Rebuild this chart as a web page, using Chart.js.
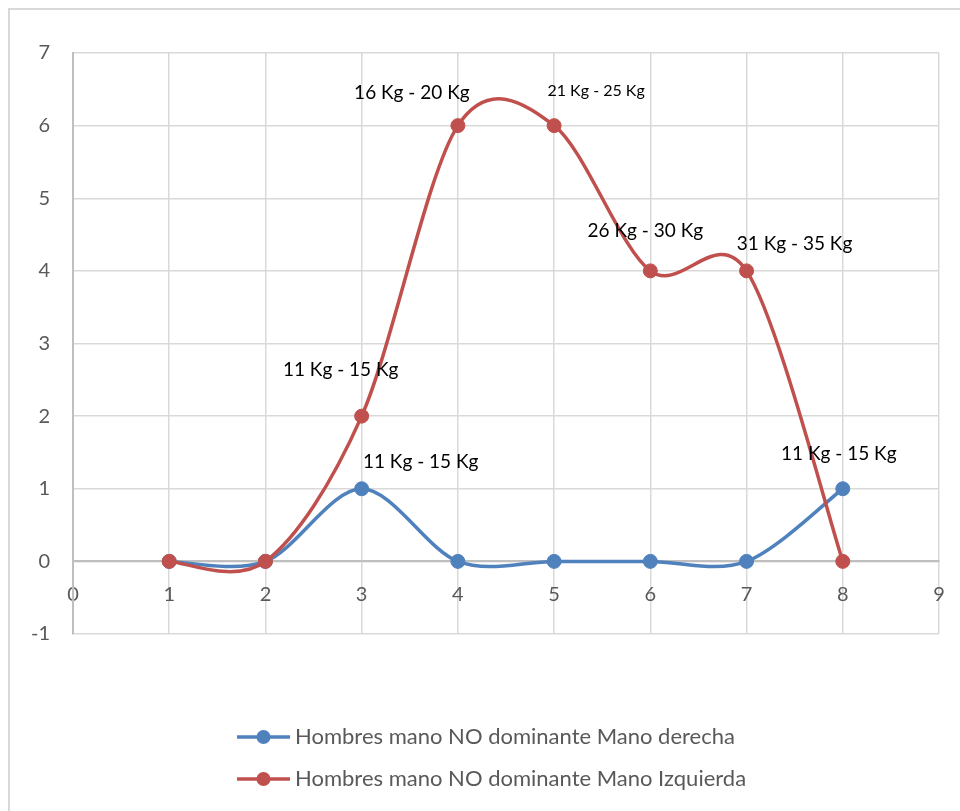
<!DOCTYPE html>
<html>
<head>
<meta charset="utf-8">
<script src="https://cdn.jsdelivr.net/npm/chart.js@4/dist/chart.umd.min.js"></script>
<style>
  html, body { margin: 0; padding: 0; background: #fff; overflow: hidden; }
  #wrap { position: relative; width: 960px; height: 811px; }
</style>
</head>
<body>
<div id="wrap"><canvas id="chartMano"></canvas></div>
<script>
// Datos
const xValues = [1, 2, 3, 4, 5, 6, 7, 8];
const derecha = [0, 0, 1, 0, 0, 0, 0, 1];
const izquierda = [0, 0, 2, 6, 6, 4, 4, 0];
const derechaLabels = ['', '', '11 Kg - 15 Kg', '', '', '', '', '11 Kg - 15 Kg'];
const izquierdaLabels = ['', '', '11 Kg - 15 Kg', '16 Kg - 20 Kg', '21 Kg - 25 Kg', '26 Kg - 30 Kg', '31 Kg - 35 Kg', ''];
const seriesNames = ['Hombres mano NO dominante Mano derecha', 'Hombres mano NO dominante Mano Izquierda'];
const xTicks = { min: 0, max: 9, step: 1 };
const yTicks = { min: -1, max: 7, step: 1 };

const AZUL = '#4f81bd';
const ROJO = '#c0504d';
const FONT = 'Lato, "Open Sans", sans-serif';
const SUAVE = 0.16; // brazo de control tipo Excel (Catmull-Rom)

// desplazamiento de cada etiqueta respecto a su punto (px)
const labelOffsets = [
    { 2: [59, -27], 7: [-4, -35] },
    { 2: [-21, -46], 3: [-46, -33], 4: [42, -35], 5: [-5, -40], 6: [48, -27] }
];
const smallLabel = { 1: { 4: true } };

const toPoints = (ys) => xValues.map((x, i) => ({ x: x, y: ys[i] }));

// marco exterior (solo arriba e izquierda)
const marco = {
    id: 'marco',
    beforeDraw(chart) {
        const ctx = chart.ctx;
        ctx.save();
        ctx.strokeStyle = '#d9d9d9';
        ctx.lineWidth = 2;
        ctx.beginPath();
        ctx.moveTo(9, chart.height);
        ctx.lineTo(9, 9);
        ctx.lineTo(chart.width, 9);
        ctx.stroke();
        ctx.restore();
    }
};

// suavizado parecido al de Excel: puntos de control sin ponderar por distancia
const suavizado = {
    id: 'suavizado',
    beforeDatasetsDraw(chart) {
        chart.data.datasets.forEach((ds, di) => {
            const meta = chart.getDatasetMeta(di);
            const line = meta.dataset;
            if (!line) return;
            line.updateControlPoints(chart.chartArea, 'x');
            const pts = meta.data;
            pts.forEach((p, i) => {
                const prev = pts[i - 1] || p;
                const next = pts[i + 1] || p;
                const dx = next.x - prev.x;
                const dy = next.y - prev.y;
                p.cp1x = p.x - SUAVE * dx;
                p.cp1y = p.y - SUAVE * dy;
                p.cp2x = p.x + SUAVE * dx;
                p.cp2y = p.y + SUAVE * dy;
            });
            line._path = undefined;
        });
    }
};

// etiquetas de datos
const etiquetas = {
    id: 'etiquetas',
    afterDatasetsDraw(chart) {
        const ctx = chart.ctx;
        ctx.save();
        ctx.fillStyle = '#000';
        ctx.textAlign = 'center';
        ctx.textBaseline = 'middle';
        chart.data.datasets.forEach((ds, di) => {
            const meta = chart.getDatasetMeta(di);
            ds.pointLabels.forEach((txt, i) => {
                if (!txt) return;
                const el = meta.data[i];
                const off = labelOffsets[di][i] || [0, -30];
                const small = smallLabel[di] && smallLabel[di][i];
                ctx.font = (small ? '16px ' : '19px ') + FONT;
                ctx.fillText(txt, el.x + off[0], el.y + off[1]);
            });
        });
        ctx.restore();
    }
};

// leyenda vertical debajo del gráfico
const leyenda = {
    id: 'leyenda',
    afterDraw(chart) {
        const ctx = chart.ctx;
        const area = chart.chartArea;
        ctx.save();
        ctx.font = '22px ' + FONT;
        const lineLen = 53;
        const sx = area.left + 164;
        chart.data.datasets.forEach((ds, i) => {
            const y = area.bottom + 103 + i * 42;
            ctx.strokeStyle = ds.borderColor;
            ctx.lineWidth = 3.5;
            ctx.beginPath();
            ctx.moveTo(sx, y);
            ctx.lineTo(sx + lineLen, y);
            ctx.stroke();
            ctx.fillStyle = ds.borderColor;
            ctx.beginPath();
            ctx.arc(sx + lineLen / 2, y, 7, 0, Math.PI * 2);
            ctx.fill();
            ctx.fillStyle = '#595959';
            ctx.textAlign = 'left';
            ctx.textBaseline = 'middle';
            ctx.fillText(ds.label, sx + lineLen + 5, y);
        });
        ctx.restore();
    }
};

const serie = (label, ys, color, labels, order) => ({
    label: label,
    data: toPoints(ys),
    pointLabels: labels,
    borderColor: color,
    backgroundColor: color,
    borderWidth: 3.5,
    tension: 0.5,
    pointRadius: 7,
    pointBorderWidth: 1,
    pointBackgroundColor: color,
    pointBorderColor: color,
    fill: false,
    order: order
});

new Chart(document.getElementById('chartMano'), {
    type: 'line',
    data: {
        datasets: [
            serie(seriesNames[0], derecha, AZUL, derechaLabels, 1),
            serie(seriesNames[1], izquierda, ROJO, izquierdaLabels, 0)
        ]
    },
    options: {
        responsive: true,
        maintainAspectRatio: false,
        animation: false,
        layout: { padding: { top: 53, right: 21, bottom: 177, left: 9 } },
        plugins: {
            legend: { display: false },
            tooltip: { enabled: false }
        },
        scales: {
            x: {
                type: 'linear',
                position: { y: 0 },
                min: xTicks.min,
                max: xTicks.max,
                ticks: { stepSize: xTicks.step, padding: 21, color: '#595959', font: { family: FONT, size: 20 } },
                grid: { color: '#d9d9d9', lineWidth: 1.5, drawTicks: false },
                border: { display: true, color: '#bfbfbf', width: 2 },
                afterFit: (s) => { s.paddingLeft = 0; s.paddingRight = 0; }
            },
            y: {
                min: yTicks.min,
                max: yTicks.max,
                ticks: { stepSize: yTicks.step, padding: 23, color: '#595959', font: { family: FONT, size: 20 } },
                grid: { color: '#d9d9d9', lineWidth: 1.5, drawTicks: false },
                border: { display: true, color: '#bfbfbf', width: 2 },
                afterFit: (s) => { s.width = 64; }
            }
        }
    },
    plugins: [marco, suavizado, etiquetas, leyenda]
});
</script>
</body>
</html>
